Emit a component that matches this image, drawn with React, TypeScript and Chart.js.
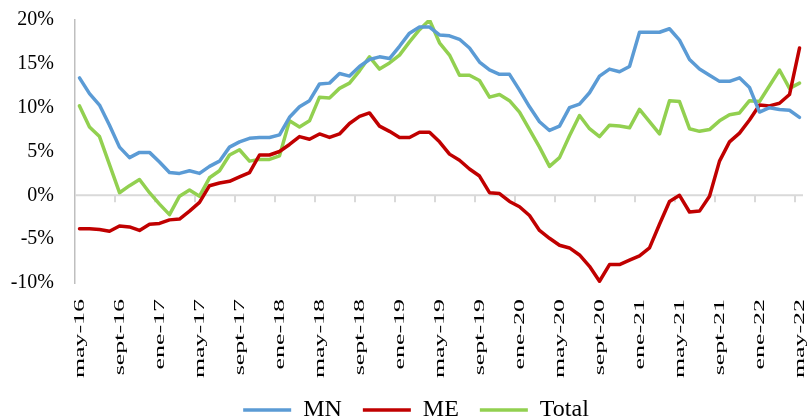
import React, { useEffect, useRef } from 'react';
import { Chart, registerables } from 'chart.js';

Chart.register(...registerables);

// Month abbreviations (Spanish) and the span of the series: may-16 .. may-22
const MONTHS = ['ene', 'feb', 'mar', 'abr', 'may', 'jun', 'jul', 'ago', 'sept', 'oct', 'nov', 'dic'];
const START_YEAR = 2016;
const START_MONTH = 4; // may
const N_POINTS = 73;

const categories: string[] = Array.from({ length: N_POINTS }, (_, i) => {
  const m = (START_MONTH + i) % 12;
  const y = START_YEAR + Math.floor((START_MONTH + i) / 12);
  return `${MONTHS[m]}-${String(y).slice(2)}`;
});

// labelled ticks: every 4 months
const labelEvery = 4;

const seriesMN = [
  13.4, 11.6, 10.3, 8.0, 5.5, 4.3, 4.9, 4.9, 3.8, 2.6, 2.5, 2.8, 2.5, 3.3, 3.9, 5.5,
  6.1, 6.5, 6.6, 6.6, 6.9, 8.9, 10.1, 10.8, 12.7, 12.8, 13.9, 13.6, 14.7, 15.5, 15.8, 15.6,
  17.0, 18.5, 19.2, 19.2, 18.3, 18.2, 17.8, 16.8, 15.2, 14.3, 13.8, 13.8, 12.0, 10.1, 8.4, 7.4,
  7.9, 10.0, 10.4, 11.7, 13.6, 14.4, 14.1, 14.7, 18.6, 18.6, 18.6, 19.0, 17.7, 15.5, 14.4, 13.7,
  13.0, 13.0, 13.4, 12.3, 9.5, 10.0, 9.8, 9.7, 8.9,
];

const seriesME = [
  -3.8, -3.8, -3.9, -4.1, -3.5, -3.6, -4.0, -3.3, -3.2, -2.8, -2.7, -1.8, -0.8, 1.1, 1.4, 1.6,
  2.1, 2.6, 4.6, 4.6, 5.0, 5.8, 6.7, 6.4, 7.0, 6.6, 7.0, 8.2, 9.0, 9.4, 7.9, 7.3,
  6.6, 6.6, 7.2, 7.2, 6.1, 4.7, 4.0, 3.0, 2.2, 0.3, 0.2, -0.7, -1.3, -2.3, -4.0, -4.9,
  -5.7, -6.0, -6.8, -8.1, -9.8, -7.9, -7.9, -7.4, -6.9, -6.0, -3.3, -0.7, 0.0, -1.9, -1.8, -0.1,
  3.9, 6.1, 7.1, 8.6, 10.3, 10.2, 10.5, 11.5, 16.8,
];

const seriesTotal = [
  10.2, 7.8, 6.7, 3.5, 0.3, 1.1, 1.8, 0.3, -1.0, -2.2, -0.1, 0.6, -0.1, 2.0, 2.8, 4.6,
  5.2, 3.9, 4.1, 4.1, 4.5, 8.5, 7.8, 8.5, 11.2, 11.1, 12.2, 12.8, 14.2, 15.8, 14.4, 15.1,
  16.0, 17.5, 18.9, 20.0, 17.4, 16.0, 13.7, 13.7, 13.1, 11.2, 11.5, 10.8, 9.5, 7.5, 5.5, 3.3,
  4.3, 6.8, 9.1, 7.6, 6.7, 8.0, 7.9, 7.7, 9.8, 8.4, 7.0, 10.8, 10.7, 7.6, 7.3, 7.5,
  8.5, 9.2, 9.4, 10.8, 10.7, 12.5, 14.3, 12.2, 12.8,
];

const yTicks = [-10, -5, 0, 5, 10, 15, 20];

const seriesNames = ['MN', 'ME', 'Total'];
const seriesColors = ['#5B9BD5', '#C00000', '#92D050'];

const FONT = "'Liberation Serif', 'Times New Roman', serif";

// layout targets
const PLOT_TOP = 20;
const LEGEND_SHIFT = 14.5;

export default function App() {
  const ref = useRef<HTMLCanvasElement | null>(null);

  useEffect(() => {
    const canvas = ref.current;
    if (!canvas) return;

    const tickIdx = categories.map((_, i) => i).filter((i) => i % labelEvery === 0);

    // fine layout adjustments (plot top edge, legend centring)
    const layoutTweak = {
      id: 'layoutTweak',
      afterLayout(chart: any) {
        const ca = chart.chartArea;
        if (ca.top !== PLOT_TOP) {
          ca.top = PLOT_TOP;
          ca.height = ca.bottom - ca.top;
          const ys = chart.scales.y;
          ys.top = PLOT_TOP;
          ys.height = ys.bottom - ys.top;
          ys.configure();
        }
        const lg = chart.legend;
        if (lg) {
          lg.left += LEGEND_SHIFT;
          lg.right += LEGEND_SHIFT;
        }
      },
    };

    // zero line with category tick marks (axis crosses at 0)
    const zeroLine = {
      id: 'zeroLine',
      beforeDatasetsDraw(chart: any) {
        const { ctx, chartArea, scales } = chart;
        const y = scales.y.getPixelForValue(0);
        ctx.save();
        ctx.strokeStyle = '#d9d9d9';
        ctx.lineWidth = 2;
        ctx.beginPath();
        ctx.moveTo(chartArea.left, y);
        ctx.lineTo(chartArea.right, y);
        for (let k = labelEvery; k < N_POINTS; k += labelEvery) {
          const x = Math.round(scales.x.getPixelForValue(k - 0.5));
          ctx.moveTo(x, y);
          ctx.lineTo(x, y + 7);
        }
        ctx.stroke();
        ctx.restore();
      },
    };

    // tall, narrow vertical category labels under the plot
    const xLabels = {
      id: 'xLabels',
      afterDraw(chart: any) {
        const { ctx, chartArea, scales } = chart;
        ctx.save();
        ctx.fillStyle = '#000';
        ctx.font = `14px ${FONT}`;
        ctx.textAlign = 'right';
        ctx.textBaseline = 'middle';
        for (const i of tickIdx) {
          const x = scales.x.getPixelForValue(i);
          ctx.save();
          ctx.translate(x + 0.5, chartArea.bottom + 16);
          ctx.rotate(-Math.PI / 2);
          ctx.scale(1.85, 1);
          ctx.fillText(categories[i], 0, 0);
          ctx.restore();
        }
        ctx.restore();
      },
    };

    const allSeries = [seriesMN, seriesME, seriesTotal];

    const chart = new Chart(canvas, {
      type: 'line',
      data: {
        datasets: allSeries.map((s, si) => ({
          label: seriesNames[si],
          data: s.map((v, i) => ({ x: i, y: v })),
          borderColor: seriesColors[si],
          backgroundColor: seriesColors[si],
          borderWidth: 3.5,
          pointRadius: 0,
          pointHoverRadius: 0,
          pointStyle: 'line',
          tension: 0,
          borderJoinStyle: 'round',
          borderCapStyle: 'round',
          fill: false,
        })),
      },
      options: {
        animation: false,
        responsive: false,
        devicePixelRatio: 1,
        layout: { padding: { top: 8, right: 8, left: 0, bottom: -12 } },
        plugins: {
          tooltip: { enabled: false },
          legend: {
            position: 'bottom',
            labels: {
              usePointStyle: true,
              pointStyle: 'line',
              pointStyleWidth: 48,
              boxWidth: 48,
              padding: 21,
              color: '#000',
              font: { family: FONT, size: 24 },
            },
          },
        },
        scales: {
          x: {
            type: 'linear',
            min: -0.45,
            max: N_POINTS - 1 + 0.35,
            afterBuildTicks: (scale: any) => {
              scale.ticks = tickIdx.map((v) => ({ value: v }));
            },
            afterFit: (scale: any) => {
              scale.height = 94;
            },
            ticks: {
              display: false,
              autoSkip: false,
              callback: (v: any) => categories[Math.round(Number(v))] ?? '',
            },
            grid: { display: false },
            border: { display: false },
          },
          y: {
            min: yTicks[0],
            max: yTicks[yTicks.length - 1],
            afterBuildTicks: (scale: any) => {
              scale.ticks = yTicks.map((v) => ({ value: v }));
            },
            afterFit: (scale: any) => {
              scale.width = 75;
            },
            ticks: {
              padding: 21,
              color: '#000',
              font: { family: FONT, size: 20 },
              callback: (v: any) => `${v}%`,
            },
            grid: { display: true, drawOnChartArea: false, drawTicks: false },
            border: { display: true, color: '#bfbfbf', width: 1.5 },
          },
        },
      },
      plugins: [layoutTweak, zeroLine, xLabels],
    } as any);

    return () => chart.destroy();
  }, []);

  return (
    <div style={{ position: 'absolute', left: 0, top: 0, width: 811, height: 420, background: '#fff' }}>
      <canvas ref={ref} width={811} height={420} style={{ display: 'block' }} />
    </div>
  );
}
